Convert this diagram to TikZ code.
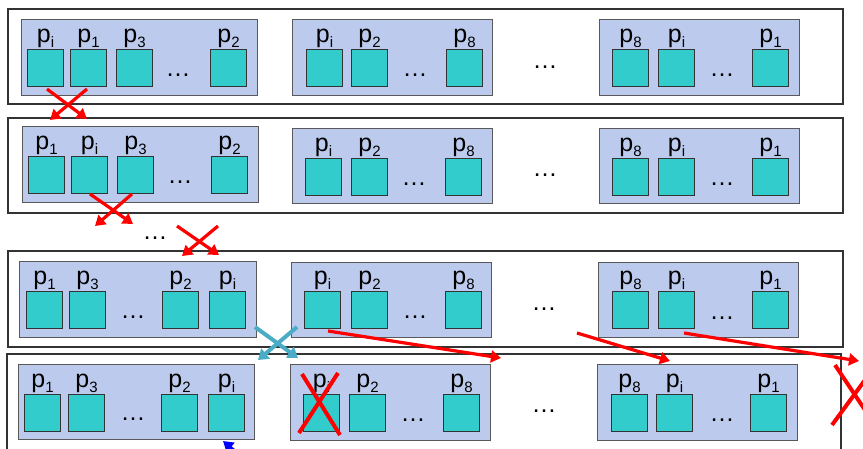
\documentclass[tikz,border=0pt]{standalone}
\usepackage{fontspec}
\setmainfont{Liberation Sans}
\usetikzlibrary{arrows.meta,calc}
\definecolor{grpfill}{HTML}{BCCBED}
\definecolor{sqfill}{HTML}{33CCCC}
\definecolor{tealx}{HTML}{4BACC6}
\newcommand\plab[1]{p\raisebox{-5pt}{\fontsize{15}{15}\selectfont #1}}
\newcommand\sqnode[4]{%
  \node[sqr] (#1) at (#2,#3) {};
  \node[lab] (#1l) at ($(#1.north)+(0,-7)$) {\plab{#4}};}
\begin{document}
\begin{tikzpicture}[x=1pt,y=-1pt,
  frame/.style={draw=black!80,line width=1.2pt},
  grp/.style={draw=black!65,fill=grpfill,line width=1pt},
  sqr/.style={draw=black!80,fill=sqfill,line width=1pt,anchor=north west,inner sep=0,minimum width=36pt,minimum height=37pt},
  lab/.style={anchor=base,inner sep=0,font=\fontsize{25}{25}\selectfont},
  dts/.style={inner sep=0,font=\fontsize{25}{25}\selectfont},
  redarr/.style={draw=red,line width=3.2pt,-{Triangle[length=10pt,width=12pt]}},
  redx/.style={draw=red,line width=4pt},
  tealarr/.style={draw=tealx,line width=4pt,-{Triangle[length=10pt,width=13pt]}}]
\useasboundingbox (0,0) rectangle (863,448);
\clip (0,0) rectangle (863,448);
\fill[white] (0,0) rectangle (863,448);
% outer frames
\draw[frame] (8,9) rectangle (843,104);
\draw[frame] (8,118) rectangle (843,213);
\draw[frame] (8,251) rectangle (843,347);
\draw[frame] (7,354) rectangle (841,470);
% groups
\draw[grp] (21,19) rectangle (257,95);
\draw[grp] (292,19) rectangle (492,95);
\draw[grp] (599,19) rectangle (799,95);
\draw[grp] (22,126) rectangle (258,202);
\draw[grp] (292,128) rectangle (492,203);
\draw[grp] (599,128) rectangle (799,203);
\draw[grp] (19,261) rectangle (256,337);
\draw[grp] (291,262) rectangle (491,337);
\draw[grp] (598,262) rectangle (798,337);
\draw[grp] (18,364) rectangle (254,439);
\draw[grp] (290,364) rectangle (490,440);
\draw[grp] (597,364) rectangle (797,440);
% row 1
\sqnode{a1}{27}{49}{i}\sqnode{a2}{70}{49}{1}\sqnode{a3}{116}{49}{3}\sqnode{a4}{210}{49}{2}
\sqnode{a5}{306}{49}{i}\sqnode{a6}{351}{49}{2}\sqnode{a7}{446}{49}{8}
\sqnode{a8}{612}{49}{8}\sqnode{a9}{658}{49}{i}\sqnode{a10}{752}{49}{1}
\node[dts] (ad1) at (178,75) {…};
\node[dts] (ad2) at (415,75) {…};
\node[dts] (ad3) at (545,67) {…};
\node[dts] (ad4) at (722,75) {…};
% row 2
\sqnode{b1}{28}{156}{1}\sqnode{b2}{71}{156}{i}\sqnode{b3}{117}{156}{3}\sqnode{b4}{211}{156}{2}
\sqnode{b5}{305}{158}{i}\sqnode{b6}{351}{158}{2}\sqnode{b7}{445}{158}{8}
\sqnode{b8}{612}{158}{8}\sqnode{b9}{658}{158}{i}\sqnode{b10}{752}{158}{1}
\node[dts] (bd1) at (180,182) {…};
\node[dts] (bd2) at (414,184) {…};
\node[dts] (bd3) at (545,175) {…};
\node[dts] (bd4) at (722,184) {…};
\node[dts] (md) at (155,238) {…};
% row 3
\sqnode{c1}{26}{291}{1}\sqnode{c2}{69}{291}{3}\sqnode{c3}{162}{291}{2}\sqnode{c4}{209}{291}{i}
\sqnode{c5}{304}{291}{i}\sqnode{c6}{351}{291}{2}\sqnode{c7}{445}{291}{8}
\sqnode{c8}{612}{291}{8}\sqnode{c9}{658}{291}{i}\sqnode{c10}{752}{291}{1}
\node[dts] (cd1) at (133,317) {…};
\node[dts] (cd2) at (415,317) {…};
\node[dts] (cd3) at (544,309) {…};
\node[dts] (cd4) at (722,318) {…};
% row 4
\sqnode{e1}{24}{394}{1}\sqnode{e2}{68}{394}{3}\sqnode{e3}{161}{394}{2}\sqnode{e4}{208}{394}{i}
\sqnode{e5}{303}{394}{i}\sqnode{e6}{349}{394}{2}\sqnode{e7}{443}{394}{8}
\sqnode{e8}{611}{394}{8}\sqnode{e9}{656}{394}{i}\sqnode{e10}{750}{394}{1}
\node[dts] (ed1) at (133,419) {…};
\node[dts] (ed2) at (413,420) {…};
\node[dts] (ed3) at (544,411) {…};
\node[dts] (ed4) at (722,420) {…};
% red crossing arrows
\coordinate (x1a) at (47,89);  \coordinate (x1b) at (87,119);
\coordinate (x1c) at (87,89);  \coordinate (x1d) at (50,120);
\draw[redarr] (x1a) -- (x1b);
\draw[redarr] (x1c) -- (x1d);
\coordinate (x2a) at (90,194);  \coordinate (x2b) at (133,224);
\coordinate (x2c) at (132,194); \coordinate (x2d) at (95,226);
\draw[redarr] (x2a) -- (x2b);
\draw[redarr] (x2c) -- (x2d);
\coordinate (x3a) at (177,226); \coordinate (x3b) at (219,255);
\coordinate (x3c) at (218,226); \coordinate (x3d) at (182,256);
\draw[redarr] (x3a) -- (x3b);
\draw[redarr] (x3c) -- (x3d);
% teal crossing arrows
\coordinate (t1a) at (255,327); \coordinate (t1b) at (298,358);
\coordinate (t2a) at (297,327); \coordinate (t2b) at (258,360);
\draw[tealarr] (t1a) -- (t1b);
\draw[tealarr] (t2a) -- (t2b);
% long red arrows
\coordinate (l1a) at (328,331); \coordinate (l1b) at (501,358);
\coordinate (l2a) at (577,333); \coordinate (l2b) at (670,361);
\coordinate (l3a) at (684,333); \coordinate (l3b) at (859,361);
\draw[redarr] (l1a) -- (l1b);
\draw[redarr] (l2a) -- (l2b);
\draw[redarr] (l3a) -- (l3b);
% red X marks
\draw[redx] (302,374) -- (340,435);
\draw[redx] (338,373) -- (299,433);
\draw[redx] (835,365) -- (875,425);
\draw[redx] (832,425) -- (876,365);
% blue arrow tip at bottom
\coordinate (bl1) at (255,468); \coordinate (bl2) at (223,441);
\draw[draw=blue,line width=3pt,-{Triangle[length=10pt,width=12pt]}] (bl1) -- (bl2);
\end{tikzpicture}
\end{document}
